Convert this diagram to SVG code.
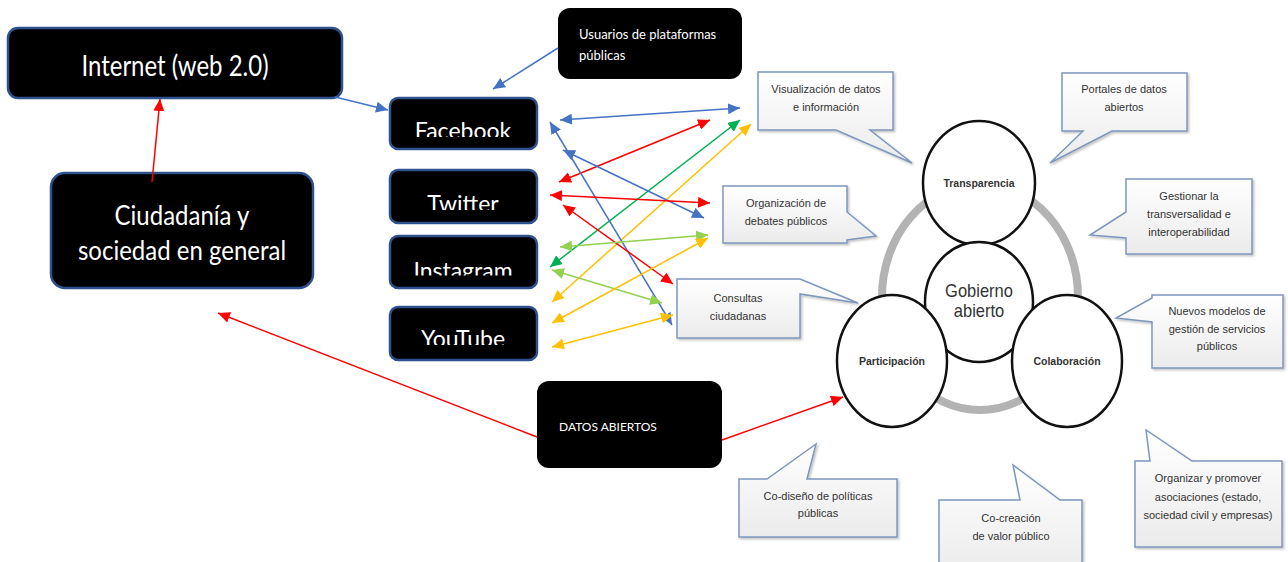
<svg xmlns="http://www.w3.org/2000/svg" width="1288" height="562" viewBox="0 0 1288 562">
<style>
.bb{fill:#000;stroke:#2f528f;stroke-width:2.5}
.bk{fill:#000}
.wt{fill:#fff;font-family:Lato,"Liberation Sans",sans-serif}
.co{fill:url(#cg);stroke:#7e97bd;stroke-width:1.5;filter:url(#sh)}
.ct{fill:#333;font-family:"Liberation Sans",Arial,sans-serif;font-size:11px;text-anchor:middle}
.ci{fill:#fff;stroke:#111;stroke-width:2.5}
.cl{fill:#333;font-family:"Liberation Sans",Arial,sans-serif;font-size:10.5px;font-weight:bold;text-anchor:middle}
.a{fill:none;stroke-width:1.5}
.bl{stroke:#4472c4}.rd{stroke:#ff0000}.dg{stroke:#00b050}.lg{stroke:#92d050}.yl{stroke:#ffc000}
</style>
<defs>
<linearGradient id="cg" x1="0" y1="0" x2="0" y2="1"><stop offset="0" stop-color="#ffffff"/><stop offset="1" stop-color="#ebebeb"/></linearGradient>
<filter id="sh" x="-10%" y="-10%" width="130%" height="130%"><feDropShadow dx="1.5" dy="1.5" stdDeviation="1" flood-color="#000" flood-opacity="0.25"/></filter>
<marker id="mb" markerWidth="12" markerHeight="11" refX="12" refY="5.5" orient="auto-start-reverse" markerUnits="userSpaceOnUse"><path d="M0,0 L12,5.5 L0,11 Z" fill="#4472c4"/></marker>
<marker id="mr" markerWidth="12" markerHeight="11" refX="12" refY="5.5" orient="auto-start-reverse" markerUnits="userSpaceOnUse"><path d="M0,0 L12,5.5 L0,11 Z" fill="#ff0000"/></marker>
<marker id="mdg" markerWidth="12" markerHeight="11" refX="12" refY="5.5" orient="auto-start-reverse" markerUnits="userSpaceOnUse"><path d="M0,0 L12,5.5 L0,11 Z" fill="#00b050"/></marker>
<marker id="mlg" markerWidth="12" markerHeight="11" refX="12" refY="5.5" orient="auto-start-reverse" markerUnits="userSpaceOnUse"><path d="M0,0 L12,5.5 L0,11 Z" fill="#92d050"/></marker>
<marker id="my" markerWidth="12" markerHeight="11" refX="12" refY="5.5" orient="auto-start-reverse" markerUnits="userSpaceOnUse"><path d="M0,0 L12,5.5 L0,11 Z" fill="#ffc000"/></marker>
<clipPath id="cFb"><rect x="390" y="98" width="147" height="39"/></clipPath>
<clipPath id="cTw"><rect x="390" y="170" width="147" height="40"/></clipPath>
<clipPath id="cIg"><rect x="390" y="236" width="147" height="39.5"/></clipPath>
<clipPath id="cYt"><rect x="390" y="307" width="147" height="38"/></clipPath>
</defs>
<rect width="1288" height="562" fill="#fff"/>

<!-- Gobierno abierto diagram -->
<g id="ring"><ellipse cx="980" cy="297" rx="98" ry="113" fill="none" stroke="#b3b3b3" stroke-width="8"/></g>
<g id="transparencia"><ellipse class="ci" cx="979" cy="183" rx="56" ry="62"/><text class="cl" x="979" y="187">Transparencia</text></g>
<g id="gobierno"><ellipse class="ci" cx="979" cy="302" rx="54" ry="60"/>
<text fill="#333" font-family="'Liberation Sans',Arial,sans-serif" font-size="16.5" text-anchor="middle" transform="translate(979,297) scale(1,1.13)">Gobierno</text>
<text fill="#333" font-family="'Liberation Sans',Arial,sans-serif" font-size="16.5" text-anchor="middle" transform="translate(979,317) scale(1,1.13)">abierto</text></g>
<g id="participacion"><ellipse class="ci" cx="892" cy="361" rx="55" ry="66"/><text class="cl" x="892" y="365">Participación</text></g>
<g id="colaboracion"><ellipse class="ci" cx="1067" cy="361" rx="55" ry="66"/><text class="cl" x="1067" y="365">Colaboración</text></g>

<!-- callouts -->
<g id="c-visualizacion"><path class="co" d="M758,72 H893 V130 H870 L912,163 L836,130 H758 Z"/><text class="ct" x="826" y="93">Visualización de datos</text><text class="ct" x="826" y="111">e información</text></g>
<g id="c-portales"><path class="co" d="M1062,73 H1187 V131 H1112 L1050,163 L1083,131 H1062 Z"/><text class="ct" x="1124" y="93">Portales de datos</text><text class="ct" x="1124" y="111">abiertos</text></g>
<g id="c-gestionar"><path class="co" d="M1126,179 H1252 V254 H1126 V238 L1090,235 L1126,212 Z"/><text class="ct" x="1189" y="200">Gestionar la</text><text class="ct" x="1189" y="218">transversalidad e</text><text class="ct" x="1189" y="236">interoperabilidad</text></g>
<g id="c-organizacion"><path class="co" d="M723,186 H847 V212 L876,236 L847,240 V243 H723 Z"/><text class="ct" x="786" y="207">Organización de</text><text class="ct" x="786" y="225">debates públicos</text></g>
<g id="c-consultas"><path class="co" d="M677,279 H800 L858,303 L800,294 V338 H677 Z"/><text class="ct" x="738" y="302">Consultas</text><text class="ct" x="738" y="320">ciudadanas</text></g>
<g id="c-nuevos"><path class="co" d="M1152,295 H1283 V368 H1152 V322 L1116,318 L1152,298 Z"/><text class="ct" x="1217" y="315">Nuevos modelos de</text><text class="ct" x="1217" y="333">gestión de servicios</text><text class="ct" x="1217" y="350">públicos</text></g>
<g id="c-codiseno"><path class="co" d="M739,479 H767 L816,444 L807,479 H897 V537 H739 Z"/><text class="ct" x="818" y="500">Co-diseño de políticas</text><text class="ct" x="818" y="517">públicas</text></g>
<g id="c-cocreacion"><path class="co" d="M939,500 H1020 L1013,465 L1060,500 H1082 V575 H939 Z"/><text class="ct" x="1011" y="522">Co-creación</text><text class="ct" x="1011" y="540">de valor público</text></g>
<g id="c-organizar"><path class="co" d="M1135,461 H1150 L1146,430 L1192,461 H1282 V547 H1135 Z"/><text class="ct" x="1208" y="482">Organizar y promover</text><text class="ct" x="1208" y="501">asociaciones (estado,</text><text class="ct" x="1208" y="519">sociedad civil y empresas)</text></g>

<!-- black nodes -->
<g id="internet"><rect class="bb" x="8" y="28" width="334" height="70" rx="10"/><text class="wt" font-size="24" text-anchor="middle" transform="translate(175,76) scale(1,1.2)">Internet (web 2.0)</text></g>
<g id="ciudadania"><rect class="bb" x="51" y="173" width="262" height="115" rx="14"/><text class="wt" font-size="24" text-anchor="middle" transform="translate(182,225) scale(1,1.12)">Ciudadanía y</text><text class="wt" font-size="24" text-anchor="middle" transform="translate(182,260) scale(1,1.12)">sociedad en general</text></g>
<g id="usuarios"><rect class="bk" x="558" y="8" width="184" height="71" rx="12"/><text class="wt" font-size="13" x="579" y="39">Usuarios de plataformas</text><text class="wt" font-size="13" x="579" y="60">públicas</text></g>
<g id="facebook"><rect class="bb" x="390" y="98" width="147" height="51" rx="8"/><text class="wt" font-size="23" text-anchor="middle" x="463" y="139" clip-path="url(#cFb)">Facebook</text></g>
<g id="twitter"><rect class="bb" x="390" y="170" width="147" height="53" rx="8"/><text class="wt" font-size="23" text-anchor="middle" x="463" y="212" clip-path="url(#cTw)">Twitter</text></g>
<g id="instagram"><rect class="bb" x="390" y="236" width="147" height="52" rx="8"/><text class="wt" font-size="23" text-anchor="middle" x="463" y="279" clip-path="url(#cIg)">Instagram</text></g>
<g id="youtube"><rect class="bb" x="390" y="307" width="147" height="53" rx="8"/><text class="wt" font-size="23" text-anchor="middle" x="463" y="347" clip-path="url(#cYt)">YouTube</text></g>
<g id="datos"><rect class="bk" x="537" y="381" width="185" height="87" rx="12"/><text class="wt" font-size="12" x="559" y="431">DATOS ABIERTOS</text></g>

<!-- connectors -->
<g id="connectors">
<path class="a bl" d="M335,97 L388,110" marker-end="url(#mb)"/>
<path class="a bl" d="M558,48 L493,89" marker-end="url(#mb)"/>
<path class="a rd" d="M152,182 L160,99" marker-end="url(#mr)"/>
<path class="a rd" d="M537,437 L218,313" marker-end="url(#mr)"/>
<path class="a rd" d="M722,440 L843,397" marker-end="url(#mr)"/>

<path class="a bl" d="M560,120 L740,108" marker-start="url(#mb)" marker-end="url(#mb)"/>
<path class="a rd" d="M559,182 L710,120" marker-start="url(#mr)" marker-end="url(#mr)"/>
<path class="a dg" d="M550,267 L740,120" marker-start="url(#mdg)" marker-end="url(#mdg)"/>
<path class="a yl" d="M552,302 L751,124" marker-start="url(#my)" marker-end="url(#my)"/>
<path class="a bl" d="M550,122 L672,325" marker-start="url(#mb)" marker-end="url(#mb)"/>
<path class="a bl" d="M563,150 L704,218" marker-start="url(#mb)" marker-end="url(#mb)"/>
<path class="a rd" d="M550,195 L710,203" marker-start="url(#mr)" marker-end="url(#mr)"/>
<path class="a rd" d="M563,205 L673,284" marker-start="url(#mr)" marker-end="url(#mr)"/>
<path class="a lg" d="M560,247 L708,235" marker-start="url(#mlg)" marker-end="url(#mlg)"/>
<path class="a lg" d="M552,270 L662,303" marker-start="url(#mlg)" marker-end="url(#mlg)"/>
<path class="a yl" d="M552,323 L708,238" marker-start="url(#my)" marker-end="url(#my)"/>
<path class="a yl" d="M552,347 L673,315" marker-start="url(#my)" marker-end="url(#my)"/>
</g>
</svg>
